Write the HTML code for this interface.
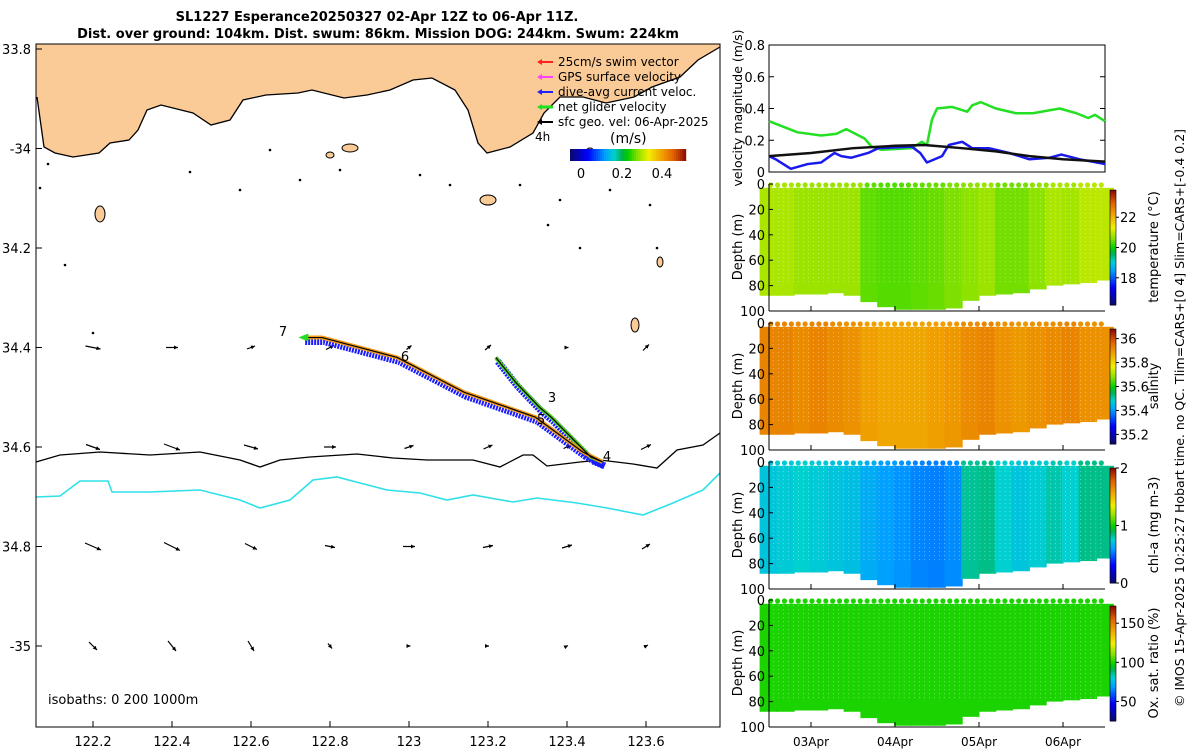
<!DOCTYPE html>
<html><head><meta charset="utf-8"><style>
html,body{margin:0;padding:0;background:#fff;}
svg{display:block;font-family:"DejaVu Sans","Liberation Sans",sans-serif;}
</style></head><body>
<svg id="fig" width="1200" height="750" viewBox="0 0 1200 750" xmlns="http://www.w3.org/2000/svg">
<g font-weight="bold" font-size="13" fill="#000" text-anchor="middle">
<text x="377" y="21">SL1227 Esperance20250327 02-Apr 12Z to 06-Apr 11Z.</text>
<text x="378" y="38">Dist. over ground: 104km. Dist. swum: 86km. Mission DOG: 244km. Swum: 224km</text>
</g>
<g id="map"></g>
<g id="right"></g>
<text transform="translate(1184,418) rotate(-90)" text-anchor="middle" font-size="12.5" fill="#000">© IMOS 15-Apr-2025 10:25:27 Hobart time. no QC. Tlim=CARS+[0 4] Slim=CARS+[-0.4 0.2]</text>
</svg>
<script>
// ---------- chart data ----------
const velTimes  = [2.5,2.84,3.12,3.30,3.42,3.64,3.72,3.84,4.2,4.32,4.38,4.44,4.5,4.68,4.86,4.92,5.02,5.2,5.44,5.64,5.96,6.16,6.3,6.38,6.5];
const netGlider = [0.32,0.25,0.23,0.24,0.27,0.21,0.16,0.14,0.15,0.19,0.17,0.33,0.40,0.41,0.38,0.42,0.44,0.40,0.37,0.37,0.40,0.37,0.34,0.36,0.32];
const curTimes  = [2.5,2.58,2.76,2.96,3.12,3.28,3.36,3.48,3.68,3.8,4.2,4.3,4.38,4.56,4.64,4.8,4.92,5.12,5.36,5.6,5.84,5.98,6.2,6.5];
const diveAvg   = [0.10,0.08,0.02,0.05,0.06,0.12,0.10,0.09,0.12,0.15,0.16,0.12,0.06,0.10,0.17,0.19,0.15,0.15,0.12,0.08,0.09,0.11,0.08,0.05];
const geoTimes  = [2.5,3.0,3.5,4.0,4.35,4.8,5.2,5.6,6.0,6.5];
const geoVel    = [0.10,0.12,0.15,0.165,0.17,0.15,0.13,0.10,0.08,0.065];
const velTicks  = [0,0.2,0.4,0.6,0.8];
const depthTicks = [0,20,40,60,80,100];
const dateTicks = [3,4,5,6];
const dateLabels = ["03Apr","04Apr","05Apr","06Apr"];
const profTimes = [2.5,2.7,2.9,3.1,3.3,3.5,3.7,3.9,4.1,4.3,4.5,4.7,4.9,5.1,5.3,5.5,5.7,5.9,6.1,6.3,6.5];
const maxDepth  = [88,88,87,87,86,88,93,97,99,99,99,98,92,88,87,86,83,80,79,78,76];
const tempVals  = [20.9,20.9,20.8,20.8,20.8,20.8,20.45,20.4,20.4,20.45,20.5,20.6,20.7,20.8,20.55,20.55,20.7,20.9,20.85,21.0,21.0];
const salVals   = [35.93,35.93,35.92,35.93,35.92,35.91,35.89,35.88,35.88,35.88,35.89,35.9,35.92,35.93,35.91,35.9,35.91,35.92,35.93,35.91,35.91];
const chlVals   = [0.72,0.74,0.76,0.74,0.72,0.7,0.64,0.6,0.58,0.55,0.54,0.56,0.82,0.84,0.76,0.72,0.75,0.8,0.76,0.84,0.84];
const oxVals    = [101,101,101,101,101,101,101,101,101,101,101,101,101,101,101,101,101,101,101,101,101];
const tempTicks = [18,20,22];
const salTicks  = [35.2,35.4,35.6,35.8,36];
const chlTicks  = [0,1,2];
const oxTicks   = [50,100,150];
const latTicks  = [33.8,34.0,34.2,34.4,34.6,34.8,35.0];
const latLabels = ["33.8","-34","34.2","34.4","34.6","34.8","-35"];
const lonTicks  = [122.2,122.4,122.6,122.8,123.0,123.2,123.4,123.6];
const lonLabels = ["122.2","122.4","122.6","122.8","123","123.2","123.4","123.6"];
const gridLons  = [122.2,122.4,122.6,122.8,123.0,123.2,123.4,123.6];
const gridLats  = [34.4,34.6,34.8,35.0];
const geoU = [[0.15,0.12,0.08,0.08,0.05,0.06,0.03,0.06],[0.14,0.16,0.14,0.12,0.09,0.09,0.07,0.10],[0.16,0.16,0.12,0.10,0.12,0.10,0.10,0.08],[0.08,0.08,0.06,0.04,0.03,0.02,0.02,0.04]];
const geoV = [[-0.03,0,0.03,0.04,0.04,0.05,0,0.06],[-0.05,-0.06,-0.04,0,0.03,0.04,0.03,0.05],[-0.07,-0.08,-0.06,-0.02,0,0.02,0.03,0.05],[-0.08,-0.10,-0.10,-0.05,0,0,0.01,0.02]];
const trackLon = [123.22,123.27,123.33,123.36,123.46,123.49,123.44,123.32,123.14,122.97,122.78,122.73];
const trackLat = [34.42,34.47,34.52,34.54,34.62,34.63,34.61,34.54,34.49,34.42,34.38,34.38];

const NS="http://www.w3.org/2000/svg";
function mk(parent,tag,attrs,txt){const e=document.createElementNS(NS,tag);for(const k in attrs)e.setAttribute(k,attrs[k]);if(txt!==undefined)e.textContent=txt;parent.appendChild(e);return e;}
const cstops=[[0,[10,10,110]],[0.15,[0,0,255]],[0.3,[0,160,255]],[0.38,[0,208,208]],[0.45,[0,176,80]],[0.5,[0,208,0]],[0.58,[128,224,0]],[0.68,[240,240,0]],[0.8,[240,160,0]],[0.9,[224,96,0]],[1,[144,16,0]]];
function cmap(f){f=Math.max(0,Math.min(1,f));for(let i=1;i<cstops.length;i++){if(f<=cstops[i][0]){const a=cstops[i-1],b=cstops[i];const r=(f-a[0])/(b[0]-a[0]);const c=a[1].map((v,j)=>Math.round(v+(b[1][j]-v)*r));return `rgb(${c[0]},${c[1]},${c[2]})`;}}return 'rgb(144,16,0)';}

// ---------- MAP ----------
const map=document.getElementById('map');
const mx=lon=>93+(lon-122.2)/0.2*79;
const my=lat=>49+(lat-33.8)/0.2*99.5;
mk(map,'rect',{x:36,y:44,width:684,height:683,fill:'#fff'});
const coast=[[37,97],[44,147],[55,153],[73,157],[99,153],[110,143],[129,140],[138,130],[147,110],[161,105],[193,113],[211,125],[230,120],[243,100],[266,95],[298,93],[312,90],[344,98],[367,95],[390,90],[413,80],[432,78],[455,90],[468,110],[478,143],[487,153],[510,147],[533,133],[544,113],[560,97],[583,97],[606,103],[634,97],[652,87],[680,77],[698,60],[720,47]];
let land=mk(map,'path',{d:'M36,44 L36,97 '+coast.map(p=>'L'+p.join(',')).join(' ')+' L720,44 Z',fill:'#fbcb97',stroke:'none'});


let cl=mk(map,'polyline',{points:coast.map(p=>p.join(',')).join(' '),fill:'none',stroke:'#000','stroke-width':1.3});


const islands=[[100,214,5,8],[488,200,8,5],[350,148,8,4],[635,325,4,7],[660,262,3,5],[330,155,4,3],[590,150,3,2]];
islands.forEach(s=>{const e=mk(map,'ellipse',{cx:s[0],cy:s[1],rx:s[2],ry:s[3],fill:'#fbcb97',stroke:'#000','stroke-width':1});});
const specks=[[48,164],[40,188],[65,265],[93,333],[548,225],[580,248],[657,248],[270,150],[190,172],[300,180],[340,170],[420,175],[450,185],[520,185],[560,200],[610,190],[650,205],[240,190]];
specks.forEach(s=>mk(map,'circle',{cx:s[0],cy:s[1],r:1.3,fill:'#000'}));
const iso200=[[36,462],[60,455],[100,452],[150,455],[200,452],[240,460],[260,467],[280,460],[310,457],[357,454],[393,458],[427,460],[473,460],[500,467],[523,455],[533,455],[547,466],[580,462],[600,460],[633,464],[657,468],[677,450],[703,445],[720,433]];
const iso1000=[[36,497],[60,496],[80,481],[108,481],[112,492],[150,492],[200,490],[240,500],[260,508],[290,500],[313,480],[337,477],[360,483],[387,490],[420,493],[447,500],[473,495],[513,502],[537,498],[577,503],[607,508],[643,515],[673,503],[703,490],[720,473]];
let i2=mk(map,'polyline',{points:iso200.map(p=>p.join(',')).join(' '),fill:'none',stroke:'#000','stroke-width':1.3});


let i1=mk(map,'polyline',{points:iso1000.map(p=>p.join(',')).join(' '),fill:'none',stroke:'#2ee0e8','stroke-width':1.6});


gridLats.forEach((la,r)=>gridLons.forEach((lo,c)=>{const x0=mx(lo),y0=my(la);const dx=geoU[r][c]*100,dy=-geoV[r][c]*100;const x1=x0+dx,y1=y0+dy;const L=Math.hypot(dx,dy)||1;const ux=dx/L,uy=dy/L;
const g=mk(map,'g',{});
mk(g,'line',{x1:x0-dx*0.5,y1:y0-dy*0.5,x2:x1-dx*0.5,y2:y1-dy*0.5,stroke:'#000','stroke-width':1.2});
const tx=x1-dx*0.5,ty=y1-dy*0.5;mk(g,'polygon',{points:`${tx},${ty} ${tx-ux*4-uy*2},${ty-uy*4+ux*2} ${tx-ux*4+uy*2},${ty-uy*4-ux*2}`,fill:'#000'});}));
const tp=trackLon.map((lo,i)=>[mx(lo),my(trackLat[i])]);
const tps=tp.map(p=>p.join(',')).join(' ');
let tb=mk(map,'polyline',{points:tp.map(p=>[p[0]+2,p[1]+4].join(',')).join(' '),fill:'none',stroke:'#1a1aff','stroke-width':7,'stroke-dasharray':'2 1'});


let tg=mk(map,'polyline',{points:tp.slice(0,6).map(p=>p.join(',')).join(' '),fill:'none',stroke:'#4dd020','stroke-width':4});


let to=mk(map,'polyline',{points:tp.slice(5).map(p=>p.join(',')).join(' '),fill:'none',stroke:'#f39a1a','stroke-width':4});


let tk=mk(map,'polyline',{points:tps,fill:'none',stroke:'#000','stroke-width':1.2});


const last=tp[tp.length-1];
let ah=mk(map,'polygon',{points:`${last[0]-4},${last[1]} ${last[0]+6},${last[1]-4} ${last[0]+6},${last[1]+4}`,fill:'#22dd22'});


[['7',283,336],['6',405,361],['3',552,402],['5',541,424],['4',607,461]].forEach(l=>{const t=mk(map,'text',{x:l[1],y:l[2],'font-size':13,'text-anchor':'middle'},l[0]);});
const leg=[['25cm/s swim vector','#ff2020'],['GPS surface velocity','#ff40ff'],['dive-avg current veloc.','#2020ff'],['net glider velocity','#20e020'],['sfc geo. vel: 06-Apr-2025','#000']];
leg.forEach((l,i)=>{const y=66+i*15;const g=mk(map,'g',{});
mk(g,'line',{x1:539,y1:y-4,x2:553,y2:y-4,stroke:l[1],'stroke-width':i==3?3:2});mk(g,'polygon',{points:`${537},${y-4} ${542},${y-7} ${542},${y-1}`,fill:l[1]});
mk(g,'text',{x:558,y:y,'font-size':12},l[0]);});
mk(map,'text',{x:535,y:141,'font-size':12},'4h');
mk(map,'text',{x:610,y:143,'font-size':14},'(m/s)');
const cbg=mk(map,'g',{});
for(let i=0;i<58;i++)mk(cbg,'rect',{x:570+i*2,y:149,width:2.2,height:12,fill:cmap(i/57)});
[['0',581],['0.2',622],['0.4',662]].forEach(t=>mk(map,'text',{x:t[1],y:178,'font-size':13,'text-anchor':'middle'},t[0]));
mk(map,'text',{x:48,y:704,'font-size':13},'isobaths: 0   200   1000m');
mk(map,'rect',{x:36,y:44,width:684,height:683,fill:'none',stroke:'#000','stroke-width':1});
latTicks.forEach((la,i)=>{const y=my(la);mk(map,'line',{x1:36,y1:y,x2:42,y2:y,stroke:'#000'});const t=mk(map,'text',{x:31,y:y+5,'font-size':13,'text-anchor':'end'},latLabels[i]);});
lonTicks.forEach((lo,i)=>{const x=mx(lo);mk(map,'line',{x1:x,y1:727,x2:x,y2:721,stroke:'#000'});const t=mk(map,'text',{x:x,y:746,'font-size':13,'text-anchor':'middle'},lonLabels[i]);});

// ---------- RIGHT PANELS ----------
const R=document.getElementById('right');
const X0=769,X1=1105;
const tx=t=>X0+(t-2.5)*84;
const vy=v=>172-v/0.8*127;
const vp=mk(R,'g',{});
mk(vp,'rect',{x:X0,y:45,width:X1-X0,height:127,fill:'#fff',stroke:'#000'});
velTicks.forEach(v=>{mk(vp,'line',{x1:X0,y1:vy(v),x2:X0+5,y2:vy(v),stroke:'#000'});mk(vp,'line',{x1:X1,y1:vy(v),x2:X1-5,y2:vy(v),stroke:'#000'});mk(vp,'text',{x:X0-4,y:vy(v)+5,'font-size':13,'text-anchor':'end'},String(v));});
function series(ts,vs,col,name){const l=mk(vp,'polyline',{points:ts.map((t,i)=>tx(t)+','+vy(vs[i])).join(' '),fill:'none',stroke:col,'stroke-width':2.5,'stroke-linejoin':'round'});}
series(velTimes,netGlider,'#22e022','net-glider-speed-line');
series(curTimes,diveAvg,'#1a1aee','dive-avg-current-line');
series(geoTimes,geoVel,'#111','geostrophic-speed-line');
mk(vp,'text',{transform:'translate(742,108) rotate(-90)','font-size':12.5,'text-anchor':'middle'},'velocity magnitude (m/s)');

function depthPanel(top,vals,vmin,vmax,ticks,tickFmt,label,name,showDates){
 const g=mk(R,'g',{});
 const dy=d=>top+d/100*127;
 const w=84*0.2;
 profTimes.forEach((t,i)=>{const c=cmap((vals[i]-vmin)/(vmax-vmin));const r=mk(g,'rect',{x:tx(t)-w/2-1,y:dy(3),width:w+1.5,height:dy(maxDepth[i])-dy(3),fill:c});});
 for(let t=2.55;t<6.5;t+=0.06){mk(g,'line',{x1:tx(t),y1:dy(4),x2:tx(t),y2:dy(78),stroke:'#fff','stroke-width':0.7,'stroke-dasharray':'1 3',opacity:0.55});}
 for(let t=2.52;t<6.5;t+=0.082){const i=Math.min(profTimes.length-1,Math.round((t-2.5)/0.2));mk(g,'circle',{cx:tx(t),cy:dy(0)+1,r:2.6,fill:cmap((vals[i]-vmin)/(vmax-vmin))});}
 mk(g,'line',{x1:X0,y1:top,x2:X0,y2:top+127,stroke:'#000'});
 mk(g,'line',{x1:X0,y1:top+127,x2:X1,y2:top+127,stroke:'#000'});
 depthTicks.forEach(d=>{mk(g,'line',{x1:X0,y1:dy(d),x2:X0+4,y2:dy(d),stroke:'#000'});mk(g,'text',{x:X0-4,y:dy(d)+5,'font-size':13,'text-anchor':'end'},String(d));});
 dateTicks.forEach((d,i)=>{mk(g,'line',{x1:tx(d),y1:top+127,x2:tx(d),y2:top+122,stroke:'#000'});if(showDates)mk(g,'text',{x:tx(d),y:top+146,'font-size':12,'text-anchor':'middle'},dateLabels[i]);});
 mk(g,'text',{transform:`translate(742,${top+63}) rotate(-90)`,'font-size':13,'text-anchor':'middle'},'Depth (m)');
 const cb=mk(g,'g',{});
 const cbTop=top+6,cbH=115;
 for(let i=0;i<58;i++)mk(cb,'rect',{x:1110,y:cbTop+cbH-(i+1)*cbH/58,width:6,height:cbH/58+0.5,fill:cmap(i/57)});
 mk(cb,'rect',{x:1110,y:cbTop,width:6,height:cbH,fill:'none',stroke:'#000','stroke-width':0.6});
 ticks.forEach(v=>{const y=cbTop+cbH-(v-vmin)/(vmax-vmin)*cbH;mk(cb,'line',{x1:1116,y1:y,x2:1119,y2:y,stroke:'#000'});mk(cb,'text',{x:1120,y:y+5,'font-size':13},tickFmt(v));});
 mk(g,'text',{transform:`translate(1158,${top+63}) rotate(-90)`,'font-size':13,'text-anchor':'middle'},label);
}
depthPanel(184,tempVals,16.2,23.8,tempTicks,v=>String(v),'temperature (°C)','temperature-panel',false);
depthPanel(323,salVals,35.12,36.08,salTicks,v=>v.toFixed(1).replace('36.0','36'),'salinity','salinity-panel',false);
depthPanel(462,chlVals,0,2,chlTicks,v=>String(v),'chl-a (mg m-3)','chl-panel',false);
depthPanel(600,oxVals,25,172,oxTicks,v=>String(v),'Ox. sat. ratio (%)','oxygen-panel',true);
</script>
</body></html>
